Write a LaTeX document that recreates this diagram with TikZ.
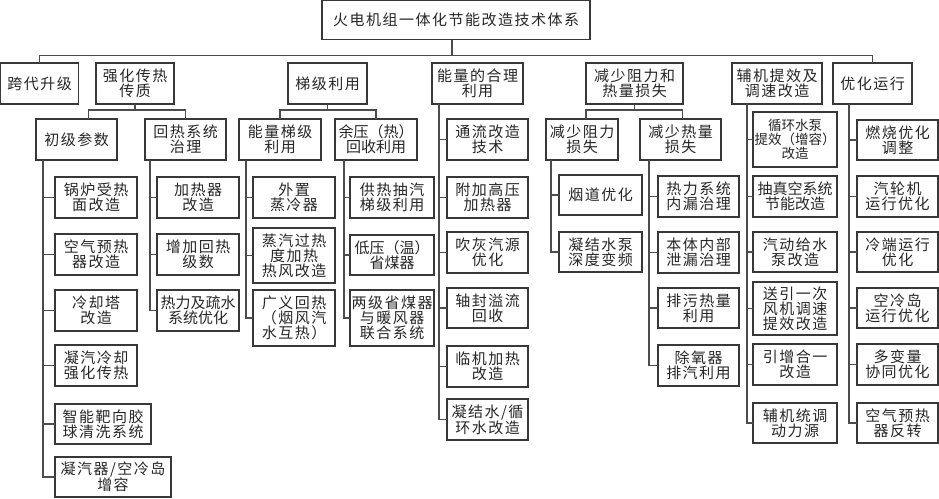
\documentclass[tikz,border=0pt]{standalone}
\usepackage{fontspec}
\newfontfamily\cjk[LetterSpace=10]{Noto Sans CJK SC}
\newfontfamily\cjktight{Noto Sans CJK SC}
\usetikzlibrary{positioning}
\newlength{\lw}
\setlength{\lw}{1.2pt}
\tikzstyle{every picture}+=[x=1pt,y=-1pt]
\tikzstyle{every picture}+=[line width=\lw]
\tikzstyle{every picture}+=[join=miter]
\tikzstyle{box}=[draw=black!78, fill=white, text=black!85]
\tikzstyle{box}+=[inner sep=0.5pt, outer sep=0pt, align=center, anchor=north west]
\tikzstyle{box}+=[minimum width=82pt, minimum height=41pt]
\tikzstyle{box}+=[font=\cjk\fontsize{15}{15}\selectfont]
\tikzstyle{tight}=[font=\cjktight\fontsize{15}{15}\selectfont]
\tikzstyle{link}=[draw=black!70]
\tikzset{split/.style={to path={-- ++(0,#1) -| (\tikztotarget)}}, split/.default=6}
\tikzset{fork/.style={to path={|- (\tikztotarget)}}}

\begin{document}
\begin{tikzpicture}
\useasboundingbox (0,0) rectangle (939,498);

\node[box, minimum width=268pt, minimum height=39pt] (root) at (322,0.6) {火电机组一体化节能改造技术体系};

% first level
\node[box, minimum width=78pt] (kuadai) at (0.6,63) {跨代升级};
\node[box, minimum width=78pt] (qianghua) at (96,63) {强化传热\\传质};
\node[box, minimum width=79pt] (tiji) at (288,63) {梯级利用};
\node[box, minimum width=91pt] (heli) at (432,63) {能量的合理\\利用};
\node[box, minimum width=97pt] (jianshao) at (586,63) {减少阻力和\\热量损失};
\node[box, minimum width=90pt] (fuji) at (732,63) {辅机提效及\\调速改造};
\node[box, minimum width=79pt] (youhua) at (833,63) {优化运行};

% second level
\node[box, minimum width=81pt] (chuji) at (36,119) {初级参数};
\node[box, minimum width=81pt] (huire) at (145,119) {回热系统\\治理};
\node[box] (nengliang) at (239,119) {能量梯级\\利用};
\node[box, tight] (yuya) at (335,119) {余压（热）\\回收利用};
\node[box, minimum width=72pt] (zuli) at (546,119) {减少阻力\\损失};
\node[box, minimum width=81pt] (reliang) at (640,119) {减少热量\\损失};

% initial parameters
\node[box] (guolu) at (55,177) {锅炉受热\\面改造};
\node[box] (kongyu) [below right=16pt and 0pt of guolu.south west] {空气预热\\器改造};
\node[box] (lengque) [below right=15pt and 0pt of kongyu.south west] {冷却塔\\改造};
\node[box] (ningqi) [below right=14pt and 0pt of lengque.south west] {凝汽冷却\\强化传热};
\node[box, minimum width=96pt, minimum height=40pt] (zhineng) [below right=18pt and 0pt of ningqi.south west] {智能靶向胶\\球清洗系统};
\node[box, minimum width=116pt, minimum height=40pt] (kongdao) [below right=13pt and 0pt of zhineng.south west] {凝汽器/空冷岛\\增容};

% regenerative system
\node[box] (jiareqi) at (157,177) {加热器\\改造};
\node[box] (zengjia) [below right=16pt and 0pt of jiareqi.south west] {增加回热\\级数};
\node[box, tight] (shuyi) [below right=15pt and 0pt of zengjia.south west] {热力及疏水\\系统优化};

% cascade use
\node[box] (waizhi) at (253,177) {外置\\蒸冷器};
\node[box, minimum height=55pt] (zhengqi) [below right=10pt and 0pt of waizhi.south west] {蒸汽过热\\度加热\\热风改造};
\node[box, minimum height=56pt] (guangyi) [below right=7pt and 0pt of zhengqi.south west] {广义回热\\（烟风汽\\水互热）};

% residual pressure
\node[box, minimum width=84pt] (gongre) at (350,177) {供热抽汽\\梯级利用};
\node[box, tight, minimum width=84pt, minimum height=40pt] (diya) [below right=17pt and 0pt of gongre.south west] {低压（温）\\省煤器};
\node[box, minimum width=84pt, minimum height=56pt] (liangji) [below right=15pt and 0pt of diya.south west] {两级省煤器\\与暖风器\\联合系统};

% rational use
\node[box, minimum width=81pt] (tongliu) at (447,119) {通流改造\\技术};
\node[box, minimum width=81pt] (fujia) [below right=17pt and 0pt of tongliu.south west] {附加高压\\加热器};
\node[box, minimum width=81pt] (chuihui) [below right=14pt and 0pt of fujia.south west] {吹灰汽源\\优化};
\node[box, minimum width=81pt, minimum height=40pt] (zhoufeng) [below right=15pt and 0pt of chuihui.south west] {轴封溢流\\回收};
\node[box, minimum width=81pt] (linji) [below right=18pt and 0pt of zhoufeng.south west] {临机加热\\改造};
\node[box, minimum width=81pt] (ningjie) [below right=12pt and 0pt of linji.south west] {凝结水/循\\环水改造};

% resistance loss
\node[box, minimum width=83pt, minimum height=40pt] (yandao) at (559,175) {烟道优化};
\node[box, minimum width=83pt, minimum height=40pt] (ningbeng) [below right=17pt and 0pt of yandao.south west] {凝结水泵\\深度变频};

% heat loss
\node[box, minimum width=81pt] (neilou) at (658,176) {热力系统\\内漏治理};
\node[box, minimum width=81pt] (benti) [below right=15pt and 0pt of neilou.south west] {本体内部\\泄漏治理};
\node[box, minimum width=81pt, minimum height=40pt] (paiwu) [below right=15pt and 0pt of benti.south west] {排污热量\\利用};
\node[box, minimum width=81pt] (chuyang) [below right=17pt and 0pt of paiwu.south west] {除氧器\\排汽利用};

% auxiliaries
\node[box, minimum width=84pt, minimum height=55pt, font=\cjktight\fontsize{13.5}{14}\selectfont] (xunhuan) at (753,112) {循环水泵\\提效（增容）\\改造};
\node[box, tight, minimum width=84pt] (chouzhen) [below right=9pt and 0pt of xunhuan.south west] {抽真空系统\\节能改造};
\node[box, minimum width=84pt, minimum height=40pt] (qidong) [below right=15pt and 0pt of chouzhen.south west] {汽动给水\\泵改造};
\node[box, minimum width=84pt, minimum height=53pt] (songyin) [below right=10pt and 0pt of qidong.south west] {送引一次\\风机调速\\提效改造};
\node[box, minimum width=84pt] (yinzeng) [below right=9pt and 0pt of songyin.south west] {引增合一\\改造};
\node[box, minimum width=84pt, minimum height=40pt] (tongdiao) [below right=18pt and 0pt of yinzeng.south west] {辅机统调\\动力源};

% operation
\node[box, minimum width=81pt, minimum height=40pt] (ranshao) at (857,120) {燃烧优化\\调整};
\node[box, minimum width=81pt] (qilun) [below right=16pt and 0pt of ranshao.south west] {汽轮机\\运行优化};
\node[box, minimum width=81pt, minimum height=40pt] (lengduan) [below right=15pt and 0pt of qilun.south west] {冷端运行\\优化};
\node[box, minimum width=81pt, minimum height=40pt] (kongleng) [below right=16pt and 0pt of lengduan.south west] {空冷岛\\运行优化};
\node[box, minimum width=81pt] (duobian) [below right=16pt and 0pt of kongleng.south west] {多变量\\协同优化};
\node[box, minimum width=81pt, minimum height=40pt] (fanzhuan) [below right=18pt and 0pt of duobian.south west] {空气预热\\器反转};

\path[link]
  ([xshift=-4pt]root.south) edge[split=16] (kuadai.north)
  ([xshift=-4pt]root.south) edge[split=16] (youhua.north)
  (qianghua.south) edge[split] ([xshift=12pt]chuji.north)
  (qianghua.south) edge[split] (huire.north)
  (tiji.south) edge[split] (nengliang.north)
  (tiji.south) edge[split] (yuya.north)
  (jianshao.south) edge[split] ([xshift=4pt]zuli.north)
  (jianshao.south) edge[split] ([xshift=2pt]reliang.north)
  ;

\path[link]
  ([xshift=7pt]chuji.south west) edge[fork] (guolu.west) edge[fork] (kongyu.west)
    edge[fork] (lengque.west) edge[fork] (ningqi.west)
    edge[fork] (zhineng.west) edge[fork] (kongdao.west)
  ([xshift=5pt]huire.south west) edge[fork] (jiareqi.west) edge[fork] (zengjia.west)
    edge[fork] (shuyi.west)
  ([xshift=7pt]nengliang.south west) edge[fork] (waizhi.west) edge[fork] (zhengqi.west)
    edge[fork] (guangyi.west)
  ([xshift=9pt]yuya.south west) edge[fork] (gongre.west) edge[fork] (diya.west)
    edge[fork] (liangji.west)
  ([xshift=7pt]heli.south west) edge[fork] (tongliu.west) edge[fork] (fujia.west)
    edge[fork] (chuihui.west) edge[fork] (zhoufeng.west)
    edge[fork] (linji.west) edge[fork] (ningjie.west)
  ([xshift=5pt]zuli.south west) edge[fork] (yandao.west) edge[fork] (ningbeng.west)
  ([xshift=9pt]reliang.south west) edge[fork] (neilou.west) edge[fork] (benti.west)
    edge[fork] (paiwu.west) edge[fork] (chuyang.west)
  ([xshift=15pt]fuji.south west) edge[fork] (xunhuan.west) edge[fork] (chouzhen.west)
    edge[fork] (qidong.west) edge[fork] (songyin.west)
    edge[fork] (yinzeng.west) edge[fork] (tongdiao.west)
  ([xshift=16pt]youhua.south west) edge[fork] (ranshao.west) edge[fork] (qilun.west)
    edge[fork] (lengduan.west) edge[fork] (kongleng.west)
    edge[fork] (duobian.west) edge[fork] (fanzhuan.west)
  ;
\end{tikzpicture}
\end{document}
